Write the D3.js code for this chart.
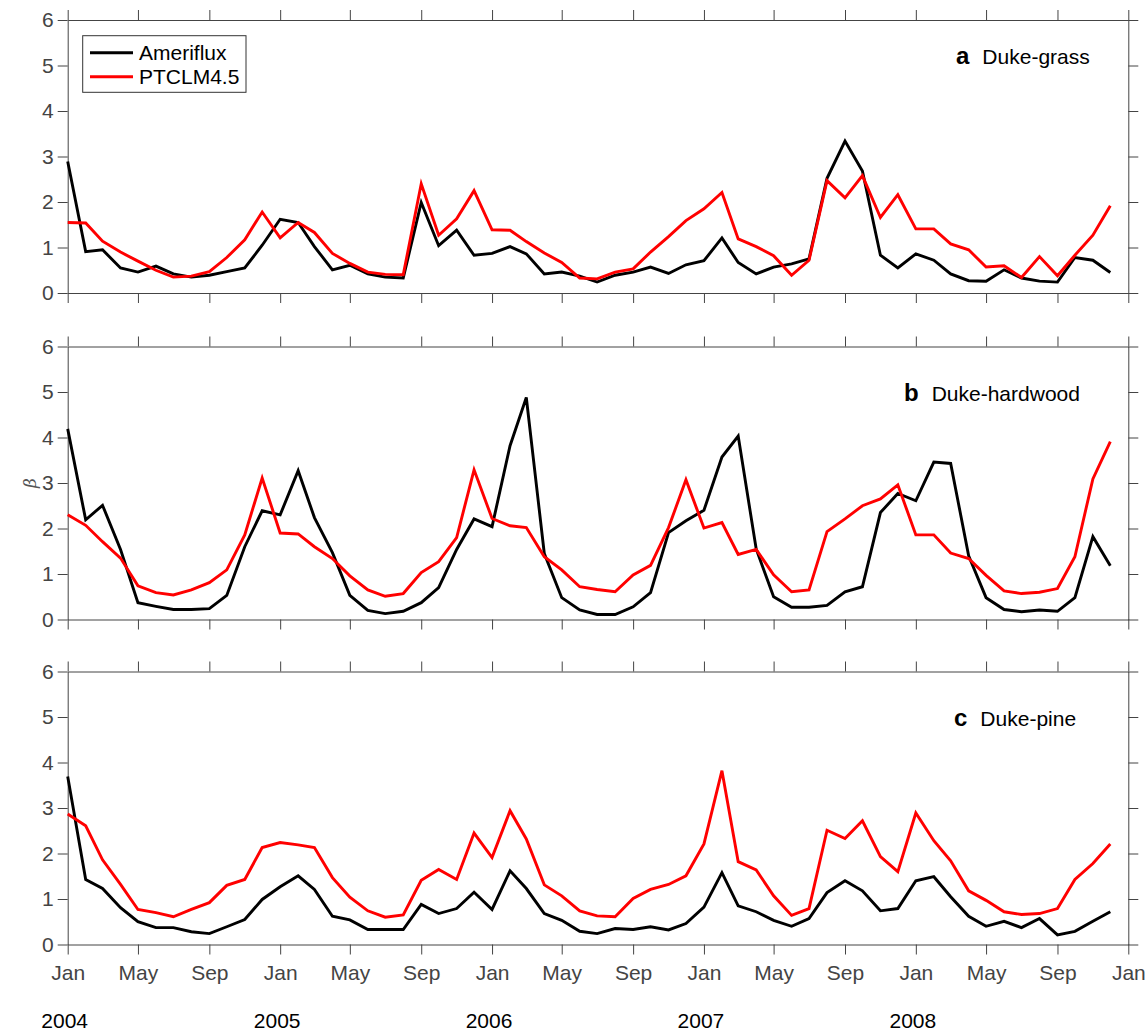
<!DOCTYPE html>
<html>
<head>
<meta charset="utf-8">
<script src="https://cdn.jsdelivr.net/npm/d3@7"></script>
<style>
  body { margin: 0; background: #fff; }
  svg { font-family: "Liberation Sans", Arial, Helvetica, sans-serif; }
  .axis path, .axis line { stroke: #444; stroke-width: 1; }
  .axis text { fill: #444; font-size: 21px; font-family: "Liberation Sans", Arial, sans-serif; }
</style>
</head>
<body>
<div class="chart"></div>
<script>
// monthly values, Jan 2004 .. Dec 2008
const months = d3.timeMonth.range(new Date(2004, 0, 1), new Date(2009, 0, 1));
const years = [2004, 2005, 2006, 2007, 2008];
const seriesNames = ["Ameriflux", "PTCLM4.5"];
const sites = ["Duke-grass", "Duke-hardwood", "Duke-pine"];
const panelLetters = ["a", "b", "c"];
const yTicks = [0, 1, 2, 3, 4, 5, 6];

const grassFlux = [2.89,0.91,0.95,0.55,0.46,0.59,0.42,0.35,0.39,0.47,0.55,1.05,1.62,1.55,1.02,0.51,0.61,0.42,0.35,0.33,
  1.99,1.04,1.38,0.83,0.87,1.02,0.86,0.42,0.46,0.37,0.24,0.39,0.46,0.57,0.43,0.62,0.71,1.21,0.67,0.42,
  0.57,0.64,0.75,2.52,3.34,2.68,0.83,0.55,0.86,0.72,0.42,0.27,0.26,0.51,0.33,0.26,0.24,0.78,0.72,0.45];
const grassModel = [1.55,1.54,1.14,0.90,0.70,0.50,0.35,0.37,0.47,0.78,1.17,1.78,1.21,1.55,1.33,0.87,0.65,0.46,0.41,0.40,
  2.40,1.27,1.63,2.25,1.39,1.38,1.13,0.88,0.67,0.33,0.31,0.46,0.53,0.90,1.24,1.59,1.85,2.21,1.19,1.02,
  0.82,0.39,0.72,2.47,2.09,2.58,1.66,2.16,1.41,1.41,1.08,0.95,0.57,0.60,0.34,0.80,0.38,0.83,1.27,1.92];

const hardwoodFlux = [4.19,2.19,2.51,1.54,0.37,0.29,0.22,0.22,0.24,0.53,1.60,2.39,2.30,3.27,2.24,1.47,0.53,0.20,0.13,0.18,
  0.37,0.70,1.54,2.21,2.04,3.82,4.88,1.45,0.48,0.21,0.11,0.11,0.28,0.59,1.91,2.17,2.40,3.57,4.03,1.55,
  0.50,0.27,0.27,0.31,0.61,0.72,2.35,2.77,2.61,3.46,3.43,1.40,0.48,0.22,0.17,0.21,0.18,0.48,1.82,1.18];
const hardwoodModel = [2.30,2.07,1.71,1.35,0.74,0.59,0.54,0.65,0.81,1.09,1.86,3.11,1.90,1.88,1.60,1.34,0.96,0.65,0.51,0.57,
  1.03,1.27,1.80,3.29,2.22,2.06,2.02,1.38,1.09,0.72,0.66,0.61,0.98,1.19,2.02,3.07,2.01,2.13,1.43,1.54,
  0.98,0.61,0.65,1.93,2.21,2.50,2.65,2.96,1.86,1.86,1.46,1.34,0.97,0.63,0.57,0.60,0.68,1.38,3.09,3.91];

const pineFlux = [3.69,1.43,1.23,0.81,0.50,0.37,0.37,0.28,0.24,0.39,0.55,0.99,1.27,1.51,1.21,0.62,0.54,0.33,0.33,0.33,
  0.88,0.68,0.79,1.15,0.77,1.62,1.23,0.68,0.53,0.29,0.24,0.35,0.33,0.39,0.32,0.46,0.82,1.58,0.85,0.72,
  0.53,0.40,0.57,1.14,1.40,1.18,0.74,0.79,1.40,1.49,1.05,0.62,0.40,0.51,0.37,0.57,0.21,0.29,0.51,0.72];
const pineModel = [2.87,2.61,1.86,1.32,0.77,0.70,0.61,0.77,0.92,1.30,1.43,2.13,2.24,2.19,2.13,1.47,1.04,0.74,0.60,0.65,
  1.41,1.65,1.43,2.45,1.91,2.94,2.32,1.31,1.07,0.74,0.63,0.61,1.01,1.21,1.32,1.51,2.21,3.82,1.82,1.64,
  1.07,0.64,0.79,2.51,2.33,2.72,1.93,1.60,2.89,2.28,1.84,1.18,0.97,0.72,0.66,0.68,0.79,1.43,1.78,2.21];

const panelData = [[grassFlux, grassModel], [hardwoodFlux, hardwoodModel], [pineFlux, pineModel]];
let color = ["#000000", "#ff0000"];

const W = 1148, H = 1034;
const left = 67.7, right = 1128.3;
const panelTop = [20, 346.5, 671.5];
const panelH = 273;
// where the "a Duke-grass" style labels sit
const labelPos = [[956, 64], [904, 401], [954, 726]];

const svg = d3.select(".chart")
  .append("svg")
  .attr("width", W)
  .attr("height", H);

const x = d3.scaleTime()
  .domain([new Date(2004, 0, 1), new Date(2009, 0, 1)])
  .range([left, right]);

const xTickVals = d3.timeMonth.every(4).range(new Date(2004, 0, 1), new Date(2009, 0, 2));

panelData.forEach((pair, p) => {
  const top = panelTop[p], bottom = top + panelH;
  const y = d3.scaleLinear().domain([0, 6]).range([bottom, top]);
  const g = svg.append("g");

  // box: four axes, ticks outward
  g.append("g").attr("class", "axis")
    .attr("transform", "translate(0," + bottom + ")")
    .call(d3.axisBottom(x).tickValues(xTickVals).tickSize(10).tickSizeOuter(0).tickPadding(11)
      .tickFormat(p == 2 ? d3.timeFormat("%b") : ""));
  g.append("g").attr("class", "axis")
    .attr("transform", "translate(0," + top + ")")
    .call(d3.axisTop(x).tickValues(xTickVals).tickSize(10).tickSizeOuter(0).tickFormat(""));
  g.append("g").attr("class", "axis")
    .attr("transform", "translate(" + left + ",0)")
    .call(d3.axisLeft(y).tickValues(yTicks).tickSize(10).tickSizeOuter(0).tickPadding(4)
      .tickFormat(d3.format("d")));
  g.append("g").attr("class", "axis")
    .attr("transform", "translate(" + right + ",0)")
    .call(d3.axisRight(y).tickValues(yTicks).tickSize(10).tickSizeOuter(0).tickFormat(""));

  const line = d3.line()
    .x((d, i) => x(months[i]))
    .y(d => y(d));

  pair.forEach((vals, s) => {
    g.append("path")
      .datum(vals)
      .attr("fill", "none")
      .attr("stroke", color[s])
      .attr("stroke-width", 2.9)
      .attr("stroke-linejoin", "miter")
      .attr("d", line);
  });

  const lab = g.append("text")
    .attr("x", labelPos[p][0])
    .attr("y", labelPos[p][1])
    .attr("font-size", 21)
    .attr("fill", "#000");
  lab.append("tspan").attr("font-weight", "bold").attr("font-size", 24).text(panelLetters[p]);
  lab.append("tspan").attr("dx", 13).text(sites[p]);
});

// legend (panel a)
const leg = svg.append("g");
leg.append("rect")
  .attr("x", 82.7).attr("y", 35.7)
  .attr("width", 163.3).attr("height", 56.6)
  .attr("fill", "#fff").attr("stroke", "#333").attr("stroke-width", 1);
seriesNames.forEach((name, s) => {
  const ly = 52.7 + s * 24;
  leg.append("line")
    .attr("x1", 90).attr("x2", 133)
    .attr("y1", ly).attr("y2", ly)
    .attr("stroke", color[s]).attr("stroke-width", 2.9);
  leg.append("text")
    .attr("x", 139).attr("y", ly + 7.5)
    .attr("font-size", 21).attr("fill", "#000")
    .text(name);
});

// year labels under the bottom axis
svg.selectAll(".year")
  .data(years)
  .enter()
  .append("text")
  .attr("class", "year")
  .attr("x", d => x(new Date(d, 0, 1)) - 3)
  .attr("y", 1028)
  .attr("text-anchor", "middle")
  .attr("font-size", 21)
  .attr("fill", "#000")
  .text(d => d);

// y label
svg.append("text")
  .attr("transform", "translate(36," + (panelTop[1] + panelH / 2) + ") rotate(-90)")
  .attr("text-anchor", "middle")
  .attr("font-family", "'DejaVu Serif', 'Liberation Serif', serif")
  .attr("font-style", "italic")
  .attr("font-size", 17)
  .attr("fill", "#555")
  .text("β");
</script>
</body>
</html>
